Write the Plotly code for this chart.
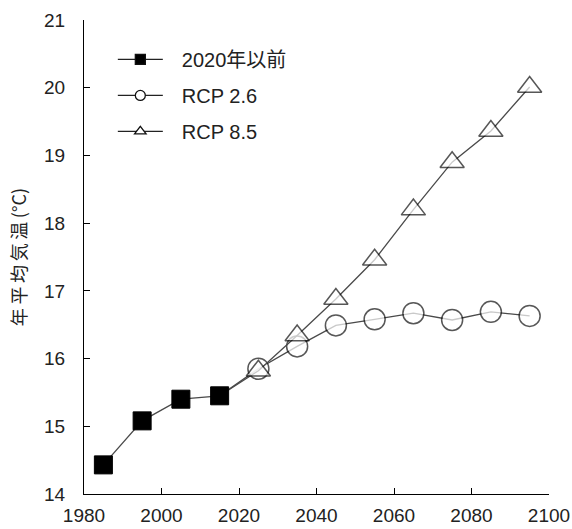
import plotly.graph_objects as go

years_hist = [1985, 1995, 2005, 2015]
temp_hist = [14.43, 15.08, 15.40, 15.45]

years_rcp = [2025, 2035, 2045, 2055, 2065, 2075, 2085, 2095]
rcp26 = [15.85, 16.18, 16.49, 16.58, 16.67, 16.57, 16.69, 16.63]
rcp85 = [15.82, 16.34, 16.88, 17.46, 18.20, 18.90, 19.36, 20.01]

labels = ["2020年以前", "RCP 2.6", "RCP 8.5"]
x_ticks = [1980, 2000, 2020, 2040, 2060, 2080, 2100]
y_ticks = [14, 15, 16, 17, 18, 19, 20, 21]

FONT = "Arial, 'Liberation Sans', 'Noto Sans CJK JP', sans-serif"
LINE_COLOR = "#4a4a4a"
MK_LINE = dict(color="#111111", width=1.5)

fig = go.Figure()

x_rcp = [years_hist[-1]] + years_rcp

# RCP 2.6 (circles)
fig.add_trace(go.Scatter(
    x=x_rcp, y=[temp_hist[-1]] + rcp26, mode="lines+markers",
    line=dict(color=LINE_COLOR, width=1.3),
    marker=dict(symbol="circle", size=[0] + [21] * len(years_rcp), color="white", line=MK_LINE),
    showlegend=False))
# RCP 8.5 (triangles)
fig.add_trace(go.Scatter(
    x=x_rcp, y=[temp_hist[-1]] + rcp85, mode="lines+markers",
    line=dict(color=LINE_COLOR, width=1.3),
    marker=dict(symbol="triangle-up", size=[0] + [21] * len(years_rcp), color="white", line=MK_LINE),
    showlegend=False))
# historical (squares)
fig.add_trace(go.Scatter(
    x=years_hist, y=temp_hist, mode="lines+markers",
    line=dict(color=LINE_COLOR, width=1.3),
    marker=dict(symbol="square", size=18, color="black", line=dict(color="black", width=1)),
    showlegend=False))

# legend entries
legend_styles = [
    dict(symbol="square", color="black"),
    dict(symbol="circle", color="white"),
    dict(symbol="triangle-up", color="white"),
]
for i, (lab, st) in enumerate(zip(labels, legend_styles)):
    fig.add_trace(go.Scatter(
        x=[None], y=[None], mode="lines+markers", name="\u2002\u2009" + lab, legendgroup=f"g{i}",
        line=dict(color="#222222", width=1.3),
        marker=dict(symbol=st["symbol"], size=10, color=st["color"],
                    line=dict(color="#111111", width=1.3))))

fig.update_layout(
    width=572, height=529,
    margin=dict(l=84, r=23, t=20, b=35),
    paper_bgcolor="white", plot_bgcolor="white",
    font=dict(family=FONT, size=19, color="#222222"),
    legend=dict(x=0.062, y=0.958, xanchor="left", yanchor="top",
                bgcolor="rgba(0,0,0,0)", font=dict(size=20),
                tracegroupgap=7, traceorder="grouped", itemwidth=45),
    xaxis=dict(range=[1980, 2100], tickvals=x_ticks, ticks="inside", ticklen=6,
               tickcolor="black", showline=True, linecolor="black", linewidth=1,
               showgrid=False, zeroline=False, tickfont=dict(size=19),
               ticklabelstandoff=4, automargin=False),
    yaxis=dict(range=[14, 21], tickvals=y_ticks, ticks="inside", ticklen=6,
               tickcolor="black", showline=True, linecolor="black", linewidth=1,
               showgrid=False, zeroline=False, tickfont=dict(size=19),
               ticklabelstandoff=14, automargin=False,
               title=dict(text="年\u2009平\u2009均\u2009気\u2009温\u2009(°C)",
                          font=dict(size=18, family="'Noto Sans CJK JP', Arial, sans-serif"),
                          standoff=12)),
)

fig.write_html("out.html")
